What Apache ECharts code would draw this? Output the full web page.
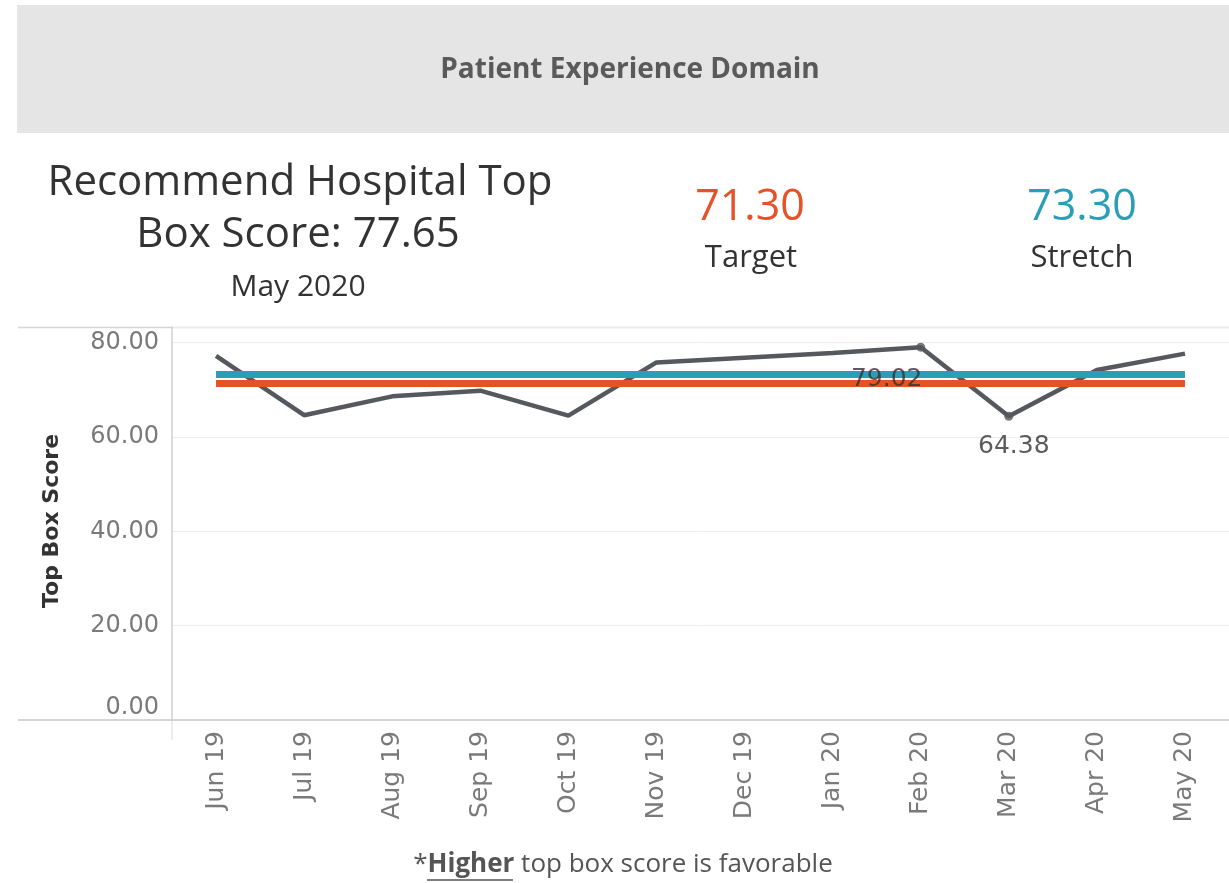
<!DOCTYPE html>
<html>
<head>
<meta charset="utf-8">
<title>Patient Experience Domain</title>
<script src="https://cdn.jsdelivr.net/npm/echarts@6/dist/echarts.min.js"></script>
<style>
  html, body { margin: 0; padding: 0; background: #fff; }
  #main { width: 1229px; height: 883px; }
</style>
</head>
<body>
<div id="main"></div>
<script>
// 月份和得分
var months = ['Jun 19', 'Jul 19', 'Aug 19', 'Sep 19', 'Oct 19', 'Nov 19',
              'Dec 19', 'Jan 20', 'Feb 20', 'Mar 20', 'Apr 20', 'May 20'];
var scores = [77.2, 64.6, 68.6, 69.8, 64.5, 75.8, 76.8, 77.8, 79.02, 64.38, 74.2, 77.65];
var yTicks = [0, 20, 40, 60, 80];

var target = 71.30;
var stretch = 73.30;
var latest = 77.65;

// 需要显示数值的点 (最大 / 最小)
var labelled = [8, 9];

var ORANGE = '#e5522a',
    TEAL = '#2b9db8',
    LINE = '#55585d',
    HEAD_FONT = '"Open Sans", sans-serif',
    AXIS_FONT = '"DejaVu Sans", sans-serif';

var chart = echarts.init(document.getElementById('main'));

function refLine(value, color) {
    return {
        type: 'line',
        z: 3,
        data: [],
        markLine: {
            z: 3,
            silent: true,
            symbol: 'none',
            label: { show: false },
            lineStyle: { color: color, width: 7, type: 'solid', cap: 'butt' },
            data: [[
                { coord: [months[0], value] },
                { coord: [months[months.length - 1], value] }
            ]]
        }
    };
}

var labelOffsets = { 8: [-34, 10], 9: [5, 8] };

var option = {
    animation: false,
    backgroundColor: '#fff',
    grid: { left: 172, right: 0, top: 327, bottom: 163, containLabel: false },
    xAxis: {
        type: 'category',
        data: months,
        boundaryGap: true,
        axisLine: { show: true, lineStyle: { color: '#c9c9c9', width: 1.5 } },
        axisTick: { show: false },
        axisLabel: {
            rotate: 90,
            margin: 11,
            color: '#7a7a7a',
            fontFamily: AXIS_FONT,
            fontSize: 25
        },
        splitLine: { show: false }
    },
    yAxis: {
        type: 'value',
        min: yTicks[0],
        max: 83.3,
        interval: yTicks[1] - yTicks[0],
        axisLine: { show: true, lineStyle: { color: '#cfcfcf', width: 1.5 } },
        axisTick: { show: false },
        axisLabel: {
            showMaxLabel: false,
            margin: 13,
            color: '#7a7a7a',
            fontFamily: AXIS_FONT,
            fontSize: 24,
            verticalAlignMinLabel: 'bottom',
            formatter: function (v) { return v.toFixed(2); }
        },
        splitLine: { show: true, lineStyle: { color: '#ececec', width: 1 } }
    },
    series: [
        {
            type: 'line',
            z: 2,
            data: scores,
            symbol: 'none',
            lineStyle: { color: LINE, width: 4.5 },
            itemStyle: { color: LINE }
        },
        refLine(stretch, TEAL),
        refLine(target, ORANGE),
        {
            type: 'scatter',
            z: 10,
            data: scores.map(function (v, i) {
                if (labelled.indexOf(i) < 0) return '-';
                return {
                    value: v,
                    label: {
                        show: true,
                        position: 'bottom',
                        offset: labelOffsets[i],
                        formatter: function (p) { return p.value.toFixed(2); },
                        color: '#333',
                        fontFamily: AXIS_FONT,
                        fontSize: 25
                    }
                };
            }),
            symbol: 'circle',
            symbolSize: 9,
            itemStyle: { color: LINE }
        }
    ],
    graphic: [
        // 顶部标题栏
        { type: 'rect', z: 0, shape: { x: 17, y: 5, width: 1212, height: 128 },
          style: { fill: '#e5e5e5' } },
        { type: 'text', x: 630, y: 70, style: {
            text: 'Patient Experience Domain', align: 'center', verticalAlign: 'middle',
            fill: '#5a5a5a', font: 'bold 28px ' + HEAD_FONT } },

        // 指标
        { type: 'text', x: 300, y: 183, style: {
            text: 'Recommend Hospital Top', align: 'center', verticalAlign: 'middle',
            fill: '#333', font: '42px ' + HEAD_FONT } },
        { type: 'text', x: 298, y: 235, style: {
            text: 'Box Score: ' + latest.toFixed(2), align: 'center', verticalAlign: 'middle',
            fill: '#333', font: '42px ' + HEAD_FONT } },
        { type: 'text', x: 298, y: 287, style: {
            text: 'May 2020', align: 'center', verticalAlign: 'middle',
            fill: '#333', font: '30px ' + HEAD_FONT } },

        { type: 'text', x: 750, y: 208, style: {
            text: target.toFixed(2), align: 'center', verticalAlign: 'middle',
            fill: ORANGE, font: '43px ' + HEAD_FONT } },
        { type: 'text', x: 751, y: 258, style: {
            text: 'Target', align: 'center', verticalAlign: 'middle',
            fill: '#333', font: '31px ' + HEAD_FONT } },
        { type: 'text', x: 1082, y: 208, style: {
            text: stretch.toFixed(2), align: 'center', verticalAlign: 'middle',
            fill: TEAL, font: '43px ' + HEAD_FONT } },
        { type: 'text', x: 1082, y: 258, style: {
            text: 'Stretch', align: 'center', verticalAlign: 'middle',
            fill: '#333', font: '31px ' + HEAD_FONT } },

        // 坐标轴标题
        { type: 'text', x: 52, y: 521, rotation: Math.PI / 2, style: {
            text: 'Top Box Score', align: 'center', verticalAlign: 'middle',
            fill: '#333', font: 'bold 22px ' + AXIS_FONT } },

        // 边框线
        { type: 'line', shape: { x1: 18, y1: 327.5, x2: 1229, y2: 327.5 },
          style: { stroke: '#d6d6d6', lineWidth: 1.5 } },
        { type: 'line', shape: { x1: 18, y1: 720, x2: 172, y2: 720 },
          style: { stroke: '#c9c9c9', lineWidth: 1.5 } },
        { type: 'line', shape: { x1: 172, y1: 720, x2: 172, y2: 740 },
          style: { stroke: '#d9d9d9', lineWidth: 1 } },

        // 脚注
        { type: 'text', x: 623, y: 865, style: {
            text: '{n|*}{b|Higher}{n| top box score is favorable}',
            align: 'center', verticalAlign: 'middle',
            rich: {
                n: { fill: '#555', font: '26px ' + HEAD_FONT },
                b: { fill: '#555', font: 'bold 26px ' + HEAD_FONT }
            } } },
        { type: 'line', shape: { x1: 427, y1: 880, x2: 513, y2: 880 },
          style: { stroke: '#555', lineWidth: 1.5 } }
    ]
};

chart.setOption(option);
</script>
</body>
</html>
